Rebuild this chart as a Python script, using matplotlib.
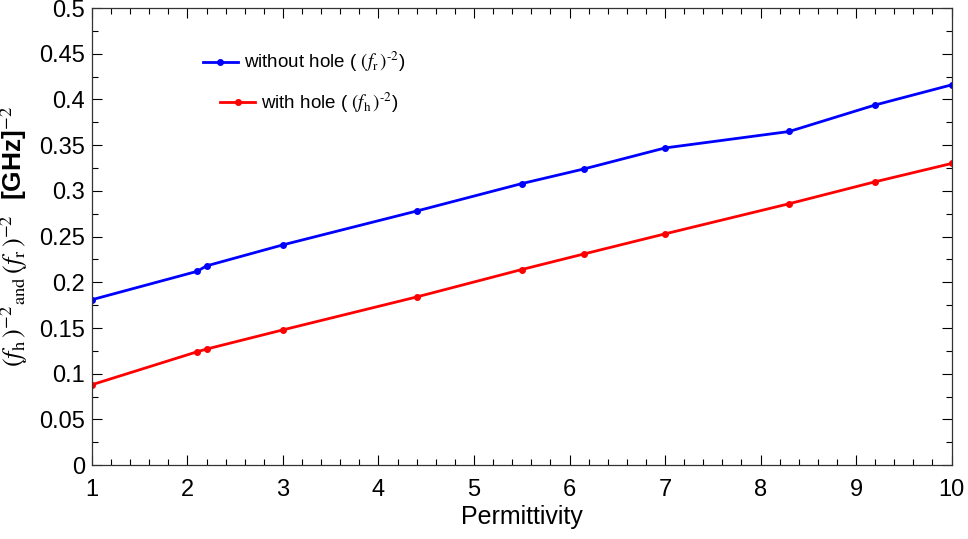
import matplotlib.pyplot as plt
from matplotlib.ticker import MultipleLocator

plt.rcParams['font.family'] = ['Liberation Sans Narrow', 'Liberation Sans', 'DejaVu Sans']
plt.rcParams['mathtext.fontset'] = 'custom'
plt.rcParams['mathtext.rm'] = 'STIXGeneral'
plt.rcParams['mathtext.it'] = 'STIXGeneral:italic'
plt.rcParams['mathtext.bf'] = 'Liberation Sans:bold'

# data
permittivity = [1, 2.1, 2.2, 3, 4.4, 5.5, 6.15, 7, 8.3, 9.2, 10]
without_hole = [0.181, 0.212, 0.218, 0.241, 0.278, 0.308, 0.324, 0.347, 0.365, 0.394, 0.416]
with_hole = [0.088, 0.124, 0.127, 0.148, 0.184, 0.214, 0.231, 0.253, 0.286, 0.310, 0.330]

fig = plt.figure(figsize=(9.68, 5.39), dpi=100)
ax = fig.add_axes([0.095, 0.137, 0.888, 0.848])

l1, = ax.plot(permittivity, without_hole, '-o', color='#0000ff', lw=2, ms=4,
              label=r'without hole ( $(\mathit{f}_{\rm r}\,)^{\text{-2}}$)')
l2, = ax.plot(permittivity, with_hole, '-o', color='#ff0000', lw=2, ms=4,
              label=r'with hole ( $(\mathit{f}_{\rm h}\,)^{\text{-2}}$)')

ax.set_xlim(1, 10)
ax.set_ylim(0, 0.5)
ax.xaxis.set_major_locator(MultipleLocator(1))
ax.xaxis.set_minor_locator(MultipleLocator(0.2))
ax.yaxis.set_minor_locator(MultipleLocator(0.025))
ax.set_yticks([0, 0.05, 0.1, 0.15, 0.2, 0.25, 0.3, 0.35, 0.4, 0.45, 0.5])
ax.set_yticklabels(['0', '0.05', '0.1', '0.15', '0.2', '0.25', '0.3', '0.35', '0.4', '0.45', '0.5'])
ax.tick_params(which='both', direction='in', top=True, right=True, labelsize=17)
ax.tick_params(axis='x', pad=10)
ax.tick_params(axis='y', pad=5)
ax.tick_params(which='major', length=7, width=0.8)
ax.tick_params(which='minor', length=4, width=0.8)
for s in ax.spines.values():
    s.set_linewidth(0.9)
    s.set_color('#333333')

ax.set_xlabel('Permittivity', fontsize=18, labelpad=3)
ax.set_ylabel(r'$(\mathit{f}_{\rm h}\,)^{-2}{}_{\rm and}\,(\mathit{f}_{\rm r}\,)^{-2}$  $\mathbf{[GHz]}^{-2}$',
              fontsize=19)
ax.yaxis.set_label_coords(-0.072, 0.5)

leg1 = ax.legend(handles=[l1], loc='upper left', bbox_to_anchor=(0.12, 0.925), frameon=False,
                 fontsize=13.5, handlelength=1.9, handletextpad=0.3, borderaxespad=0)
ax.add_artist(leg1)
ax.legend(handles=[l2], loc='upper left', bbox_to_anchor=(0.14, 0.836), frameon=False,
          fontsize=13.5, handlelength=1.9, handletextpad=0.3, borderaxespad=0)

fig.savefig('out.png', dpi=100)
